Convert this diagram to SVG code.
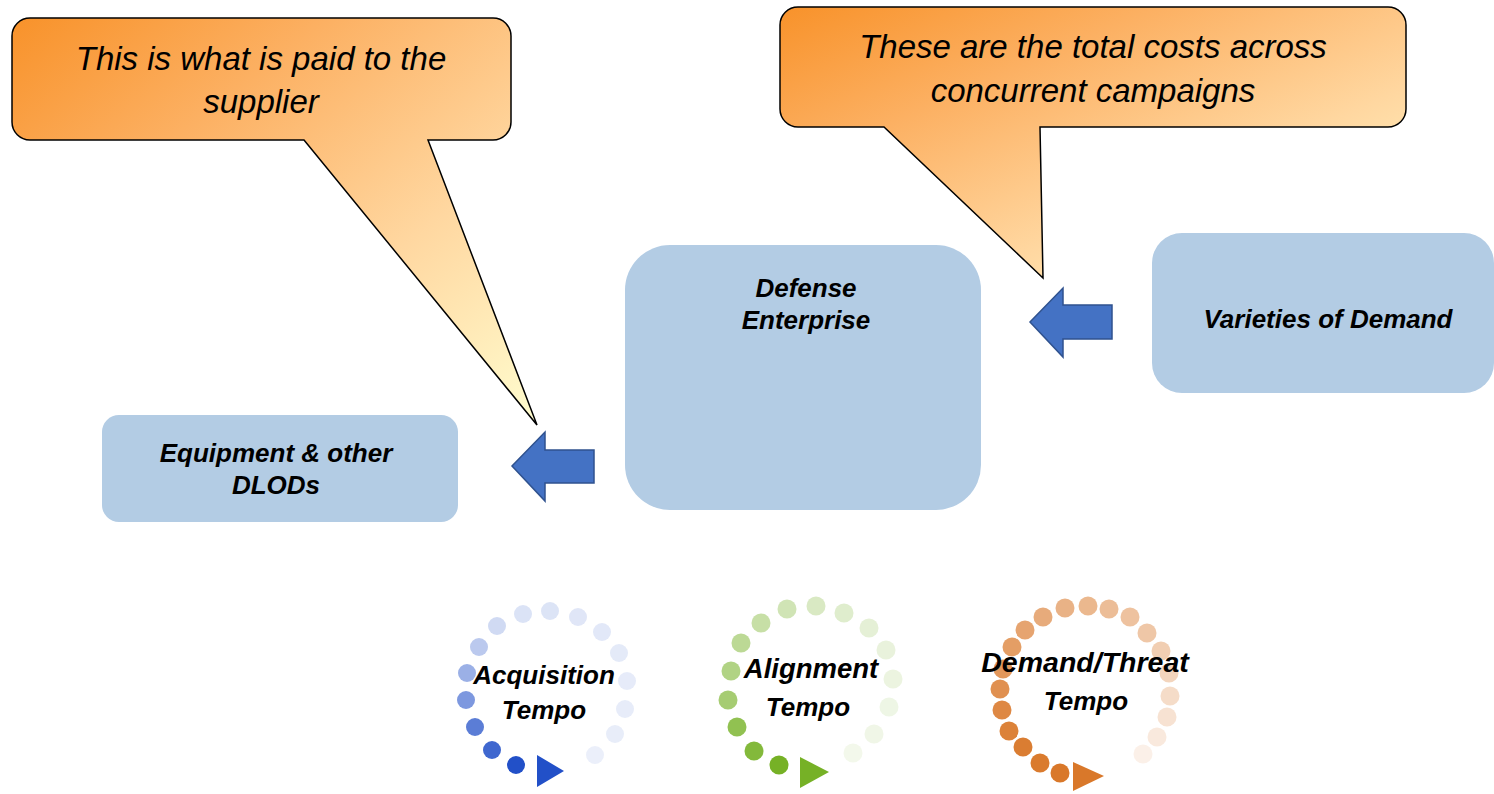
<svg xmlns="http://www.w3.org/2000/svg" width="1494" height="794" viewBox="0 0 1494 794">
<defs>
<linearGradient id="calloutGrad" x1="0" y1="0" x2="1" y2="1">
<stop offset="0" stop-color="#F8922A"/>
<stop offset="0.3" stop-color="#FCB062"/>
<stop offset="0.65" stop-color="#FFD7A0"/>
<stop offset="1" stop-color="#FFFDCF"/>
</linearGradient>
<style>
.callout{fill:url(#calloutGrad);stroke:#000;stroke-width:1.5;stroke-linejoin:miter}
.ctext{font-family:"Liberation Sans",Arial,sans-serif;font-style:italic;font-size:33px;fill:#000;text-anchor:middle}
.node{fill:#B3CCE4}
.ntext{font-family:"Liberation Sans",Arial,sans-serif;font-style:italic;font-weight:bold;font-size:26px;fill:#000;text-anchor:middle}
.arrow{fill:#4472C4;stroke:#2F528F;stroke-width:1.5}
.ttext{font-family:"Liberation Sans",Arial,sans-serif;font-style:italic;font-weight:bold;fill:#000;text-anchor:middle}
</style>
</defs>
<rect width="1494" height="794" fill="#fff"/>

<g id="callout-supplier">
<path class="callout" d="M30,18 H493 A18,18 0 0 1 511,36 V122 A18,18 0 0 1 493,140 H428 L537,425 L304,140 H30 A18,18 0 0 1 12,122 V36 A18,18 0 0 1 30,18 Z"/>
<text class="ctext" x="261" y="70">This is what is paid to the</text>
<text class="ctext" x="261" y="113">supplier</text>
</g>

<g id="callout-costs">
<path class="callout" d="M798,7 H1388 A18,18 0 0 1 1406,25 V109 A18,18 0 0 1 1388,127 H1040 L1043,278 L884,127 H798 A18,18 0 0 1 780,109 V25 A18,18 0 0 1 798,7 Z"/>
<text class="ctext" x="1093" y="58">These are the total costs across</text>
<text class="ctext" x="1093" y="102">concurrent campaigns</text>
</g>

<g id="node-defense-enterprise">
<rect class="node" x="625" y="245" width="356" height="265" rx="45" ry="45"/>
<text class="ntext" x="806" y="297">Defense</text>
<text class="ntext" x="806" y="329">Enterprise</text>
</g>

<g id="node-varieties-of-demand">
<rect class="node" x="1152" y="233" width="342" height="160" rx="30" ry="30"/>
<text class="ntext" x="1328" y="328">Varieties of Demand</text>
</g>

<g id="node-equipment">
<rect class="node" x="102" y="415" width="356" height="107" rx="17" ry="17"/>
<text class="ntext" x="276" y="462">Equipment &amp; other</text>
<text class="ntext" x="276" y="494">DLODs</text>
</g>

<g id="connectors">
<path class="arrow" d="M1112,305 H1063 V288 L1030,322 L1063,357 V339 H1112 Z"/>
<path class="arrow" d="M594,450 H545 V432 L512,466 L545,501 V483 H594 Z"/>
</g>

<g id="tempo-acquisition">
<g fill="#2250C8">
<circle cx="516" cy="765" r="9"/>
<circle cx="492" cy="750" r="9" fill-opacity="0.87"/>
<circle cx="475" cy="727" r="9" fill-opacity="0.74"/>
<circle cx="466" cy="700" r="9" fill-opacity="0.59"/>
<circle cx="467" cy="673" r="9" fill-opacity="0.45"/>
<circle cx="479" cy="647" r="9" fill-opacity="0.31"/>
<circle cx="497" cy="626" r="9" fill-opacity="0.21"/>
<circle cx="523" cy="614" r="9" fill-opacity="0.16"/>
<circle cx="550" cy="611" r="9" fill-opacity="0.155"/>
<circle cx="578" cy="617" r="9" fill-opacity="0.14"/>
<circle cx="602" cy="632" r="9" fill-opacity="0.13"/>
<circle cx="619" cy="653" r="9" fill-opacity="0.12"/>
<circle cx="627" cy="681" r="9" fill-opacity="0.115"/>
<circle cx="625" cy="709" r="9" fill-opacity="0.11"/>
<circle cx="615" cy="734" r="9" fill-opacity="0.10"/>
<circle cx="595" cy="755" r="9" fill-opacity="0.09"/>
<polygon points="537,755 564,771 537,787"/>
</g>
<text class="ttext" x="544" y="684" font-size="26">Acquisition</text>
<text class="ttext" x="544" y="719" font-size="26">Tempo</text>
</g>

<g id="tempo-alignment">
<g fill="#76B126">
<circle cx="779" cy="765" r="9.5"/>
<circle cx="754" cy="751" r="9.5" fill-opacity="0.9"/>
<circle cx="737" cy="727" r="9.5" fill-opacity="0.8"/>
<circle cx="728" cy="700" r="9.5" fill-opacity="0.65"/>
<circle cx="731" cy="671" r="9.5" fill-opacity="0.57"/>
<circle cx="741" cy="643" r="9.5" fill-opacity="0.49"/>
<circle cx="761" cy="623" r="9.5" fill-opacity="0.41"/>
<circle cx="787" cy="609" r="9.5" fill-opacity="0.34"/>
<circle cx="816" cy="606" r="9.5" fill-opacity="0.28"/>
<circle cx="844" cy="613" r="9.5" fill-opacity="0.23"/>
<circle cx="869" cy="628" r="9.5" fill-opacity="0.19"/>
<circle cx="886" cy="650" r="9.5" fill-opacity="0.16"/>
<circle cx="893" cy="679" r="9.5" fill-opacity="0.14"/>
<circle cx="889" cy="707" r="9.5" fill-opacity="0.12"/>
<circle cx="874" cy="734" r="9.5" fill-opacity="0.11"/>
<circle cx="853" cy="753" r="9.5" fill-opacity="0.09"/>
<polygon points="800,757 829,772 800,788"/>
</g>
<text class="ttext" x="811" y="678" font-size="27.5">Alignment</text>
<text class="ttext" x="808" y="716" font-size="26">Tempo</text>
</g>

<g id="tempo-demand-threat">
<g fill="#D9782A">
<circle cx="1060" cy="773" r="9.5"/>
<circle cx="1040" cy="763" r="9.5" fill-opacity="0.98"/>
<circle cx="1023" cy="747" r="9.5" fill-opacity="0.96"/>
<circle cx="1009" cy="731" r="9.5" fill-opacity="0.93"/>
<circle cx="1002" cy="710" r="9.5" fill-opacity="0.88"/>
<circle cx="1000" cy="689" r="9.5" fill-opacity="0.82"/>
<circle cx="1003" cy="669" r="9.5" fill-opacity="0.77"/>
<circle cx="1012" cy="647" r="9.5" fill-opacity="0.72"/>
<circle cx="1025" cy="630" r="9.5" fill-opacity="0.67"/>
<circle cx="1043" cy="617" r="9.5" fill-opacity="0.62"/>
<circle cx="1065" cy="608" r="9.5" fill-opacity="0.57"/>
<circle cx="1088" cy="606" r="9.5" fill-opacity="0.53"/>
<circle cx="1109" cy="609" r="9.5" fill-opacity="0.49"/>
<circle cx="1130" cy="617" r="9.5" fill-opacity="0.45"/>
<circle cx="1147" cy="633" r="9.5" fill-opacity="0.41"/>
<circle cx="1161" cy="651" r="9.5" fill-opacity="0.36"/>
<circle cx="1169" cy="673" r="9.5" fill-opacity="0.31"/>
<circle cx="1170" cy="696" r="9.5" fill-opacity="0.26"/>
<circle cx="1167" cy="717" r="9.5" fill-opacity="0.21"/>
<circle cx="1157" cy="737" r="9.5" fill-opacity="0.16"/>
<circle cx="1143" cy="754" r="9.5" fill-opacity="0.11"/>
<polygon points="1073,762 1104,776 1073,791"/>
</g>
<text class="ttext" x="1085" y="672" font-size="28.5">Demand/Threat</text>
<text class="ttext" x="1086" y="710" font-size="26">Tempo</text>
</g>
</svg>
